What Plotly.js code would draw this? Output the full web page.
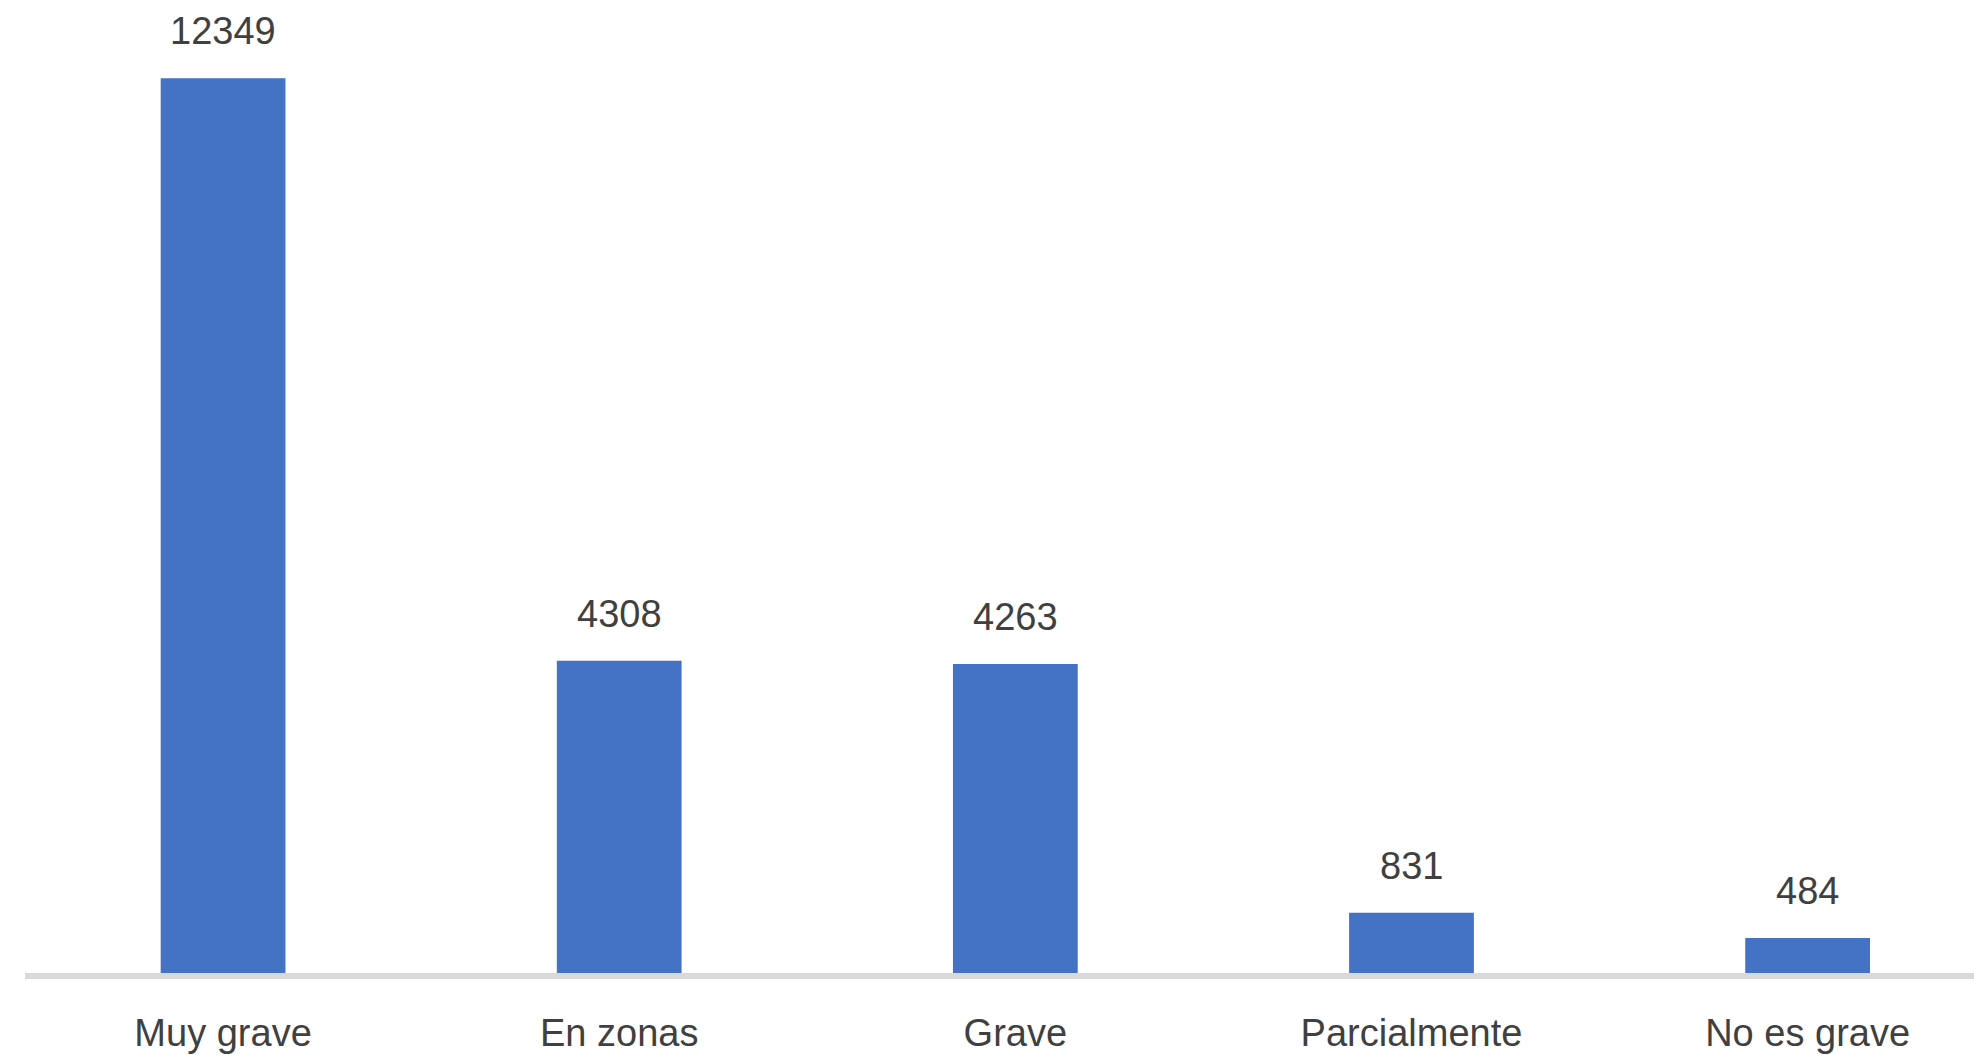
<!DOCTYPE html>
<html>
<head>
<meta charset="utf-8">
<script src="https://cdn.plot.ly/plotly-3.0.1.min.js"></script>
<style>
  html, body { margin: 0; padding: 0; background: #ffffff; }
  #chart { width: 1974px; height: 1055px; }
</style>
</head>
<body>
<div id="chart"></div>
<script>
const categories = ["Muy grave", "En zonas", "Grave", "Parcialmente", "No es grave"];
const values = [12349, 4308, 4263, 831, 484];
const valueLabels = ["12349", "4308", "4263", "831", "484"];

const FONT = "Liberation Sans, Arial, sans-serif";
const TEXT_COLOR = "#404040";

const trace = {
  type: "bar",
  x: categories,
  y: values,
  marker: { color: "#4472C4", line: { width: 0 } },
  hoverinfo: "skip"
};

const annotations = categories.map((c, i) => ({
  x: c,
  y: values[i],
  xref: "x",
  yref: "y",
  text: valueLabels[i],
  showarrow: false,
  yanchor: "middle",
  xanchor: "center",
  yshift: 47,
  font: { family: FONT, size: 38, color: TEXT_COLOR }
}));

const layout = {
  width: 1974,
  height: 1055,
  margin: { l: 25, r: 0, t: 31, b: 82 },
  paper_bgcolor: "#ffffff",
  plot_bgcolor: "#ffffff",
  showlegend: false,
  bargap: 0.685,
  xaxis: {
    type: "category",
    range: [-0.5, 4.42],
    showgrid: false,
    zeroline: false,
    showline: true,
    linecolor: "#D9D9D9",
    linewidth: 6,
    ticks: "",
    ticklabelstandoff: 21,
    tickfont: { family: FONT, size: 38, color: TEXT_COLOR },
    fixedrange: true
  },
  yaxis: {
    range: [0, 13000],
    visible: false,
    showgrid: false,
    zeroline: false,
    fixedrange: true
  },
  annotations: annotations
};

Plotly.newPlot("chart", [trace], layout, { displayModeBar: false, staticPlot: true });
</script>
</body>
</html>
